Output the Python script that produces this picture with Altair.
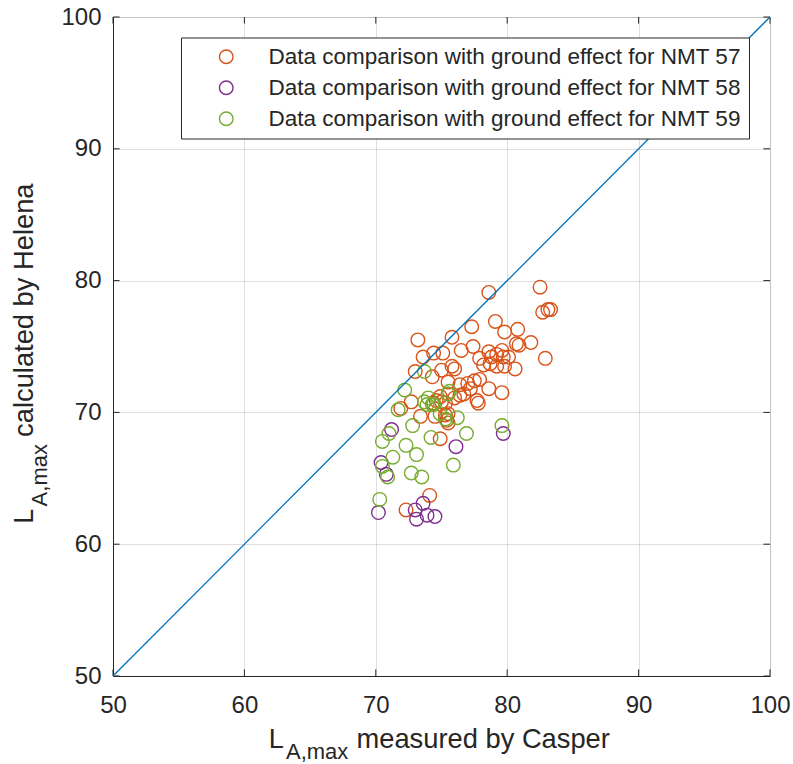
import altair as alt
import pandas as pd

# ---------------- data ----------------
series_names = [
    "Data comparison with ground effect for NMT 57",
    "Data comparison with ground effect for NMT 58",
    "Data comparison with ground effect for NMT 59",
]
series_colors = ["#D95319", "#7E2F8E", "#77AC30"]

nmt57_x = [82.5, 78.6, 82.7, 83.1, 83.3, 79.1, 77.3, 80.8, 79.8, 81.8, 82.9, 73.2, 75.8, 80.7,
           80.9, 77.4, 76.5, 75.1, 74.4, 73.6, 78.6, 78.8, 79.2, 79.6, 79.7, 80.1, 79.8, 80.6,
           79.2, 78.7, 78.2, 75.8, 76.0, 75.0, 73.0, 74.3, 75.5, 76.4, 77.0, 77.5, 77.9, 78.6,
           79.6, 77.7, 77.8, 76.0, 76.4, 76.7, 75.5, 74.9, 75.0, 74.6, 74.4, 75.3, 72.7, 73.4,
           74.5, 75.3, 75.5, 75.4, 75.5, 74.9, 74.1, 72.3, 71.9, 77.9, 77.2]
nmt57_y = [79.5, 79.1, 77.6, 77.8, 77.8, 76.9, 76.5, 76.3, 76.1, 75.3, 74.1, 75.5, 75.7, 75.2,
           75.1, 75.0, 74.7, 74.5, 74.5, 74.2, 74.6, 74.2, 74.4, 74.7, 74.2, 74.2, 73.5, 73.3,
           73.5, 73.7, 73.6, 73.5, 73.3, 73.2, 73.1, 72.7, 72.3, 72.1, 72.2, 72.4, 72.5, 71.8,
           71.5, 70.9, 70.7, 71.1, 71.3, 71.4, 71.4, 71.2, 70.8, 70.9, 70.7, 70.7, 70.8, 69.7,
           69.7, 69.8, 69.9, 69.4, 69.2, 68.0, 63.7, 62.6, 70.3, 74.1, 71.8]

nmt58_x = [70.2, 73.1, 73.6, 73.0, 73.9, 74.5, 70.4, 70.8, 71.2, 76.1, 79.7]
nmt58_y = [62.4, 61.9, 63.1, 62.6, 62.2, 62.1, 66.2, 65.3, 68.7, 67.4, 68.4]

nmt59_x = [70.3, 70.5, 70.5, 70.9, 71.0, 71.3, 72.3, 72.7, 73.5, 73.1, 72.8, 74.2, 75.9, 76.9,
           79.6, 76.2, 73.9, 74.3, 74.0, 73.7, 74.4, 72.2, 73.7, 75.6, 71.7, 74.9, 75.3, 75.5]
nmt59_y = [63.4, 67.8, 65.9, 65.1, 68.4, 66.6, 67.5, 65.4, 65.1, 66.8, 69.0, 68.1, 66.0, 68.4,
           69.0, 69.6, 70.6, 70.6, 71.1, 70.8, 70.6, 71.7, 73.1, 71.6, 70.2, 69.9, 69.5, 71.4]

diag_vals = [50, 100]
tick_vals = [50, 60, 70, 80, 90, 100]
axis_domain = [50, 100]

x_title_parts = ["L", "A,max", "measured by Casper"]
y_title_parts = ["L", "A,max", "calculated by Helena"]

# ---------------- build tables ----------------
rows = []
for name, xs, ys in zip(series_names, [nmt57_x, nmt58_x, nmt59_x], [nmt57_y, nmt58_y, nmt59_y]):
    for a, b in zip(xs, ys):
        rows.append({"series": name, "casper": a, "helena": b})
df = pd.DataFrame(rows)
df_diag = pd.DataFrame({"v": diag_vals})
df_ticks = pd.DataFrame({"t": tick_vals})

W, H = 657, 659
FONT = "Liberation Sans"
INK = "#262626"
TL = 6.6  # inward tick length (px)

xscale = alt.Scale(domain=axis_domain, nice=False, zero=False)
yscale = alt.Scale(domain=axis_domain, nice=False, zero=False)

common_axis = dict(
    values=tick_vals, title=None, grid=True, gridColor=INK, gridOpacity=0.15, gridWidth=1,
    ticks=False, tickSize=0, domainColor=INK, domainWidth=1, labelFlush=False,
    labelFont=FONT, labelFontSize=24, labelColor=INK,
)
x_axis = alt.Axis(labelPadding=17, **common_axis)
y_axis = alt.Axis(labelPadding=12, **common_axis)

points = alt.Chart(df).mark_point(filled=False, size=185, strokeWidth=1.4, opacity=1).encode(
    x=alt.X("casper:Q", scale=xscale, axis=x_axis),
    y=alt.Y("helena:Q", scale=yscale, axis=y_axis),
    color=alt.Color(
        "series:N",
        scale=alt.Scale(domain=series_names, range=series_colors),
        legend=alt.Legend(
            title=None, orient="none", legendX=68, legendY=20.5,
            labelFont=FONT, labelFontSize=22.5, labelColor=INK, labelLimit=0,
            symbolType="circle", symbolSize=185, symbolStrokeWidth=1.4,
            symbolFillColor="transparent", symbolOffset=26, labelOffset=31,
            rowPadding=8.0, padding=8, strokeColor=INK, fillColor="white",
        ),
    ),
)

diag = alt.Chart(df_diag).mark_line(color="#0072BD", strokeWidth=1.3).encode(
    x=alt.X("v:Q", scale=xscale, axis=x_axis),
    y=alt.Y("v:Q", scale=yscale, axis=y_axis),
)

tick_bottom = alt.Chart(df_ticks).mark_rule(color=INK, strokeWidth=1).encode(
    x=alt.X("t:Q", scale=xscale, axis=x_axis), y=alt.value(H), y2=alt.value(H - TL))
tick_top = alt.Chart(df_ticks).mark_rule(color=INK, strokeWidth=1).encode(
    x=alt.X("t:Q", scale=xscale, axis=x_axis), y=alt.value(0), y2=alt.value(TL))
tick_left = alt.Chart(df_ticks).mark_rule(color=INK, strokeWidth=1).encode(
    y=alt.Y("t:Q", scale=yscale, axis=y_axis), x=alt.value(0), x2=alt.value(TL))
tick_right = alt.Chart(df_ticks).mark_rule(color=INK, strokeWidth=1).encode(
    y=alt.Y("t:Q", scale=yscale, axis=y_axis), x=alt.value(W), x2=alt.value(W - TL))


def label(text, x, y, size, angle=0):
    d = pd.DataFrame({"s": [text]})
    m = alt.Chart(d).mark_text(
        font=FONT, fontSize=size, color=INK, align="left", baseline="alphabetic", angle=angle
    )
    return m.encode(x=alt.value(x), y=alt.value(y), text="s:N")


xt = [
    label(x_title_parts[0], 155.7, 731, 27),
    label(x_title_parts[1], 173.0, 741.5, 22),
    label(x_title_parts[2], 243.5, 731, 27.3),
]
yt = [
    label(y_title_parts[0], -79.7, 506.7, 27, 270),
    label(y_title_parts[1], -66.0, 489.4, 22, 270),
    label(y_title_parts[2], -79.7, 419.9, 27.3, 270),
]

chart = alt.layer(
    tick_bottom, tick_top, tick_left, tick_right, points, diag, *xt, *yt
).properties(
    width=W, height=H,
    autosize=alt.AutoSizeParams(type="none"),
    padding={"left": 113, "top": 17, "right": 23, "bottom": 88},
).configure_view(stroke=INK, strokeWidth=1).configure(background="white")

chart.save("out.html", embed_options={"renderer": "svg", "actions": False})
